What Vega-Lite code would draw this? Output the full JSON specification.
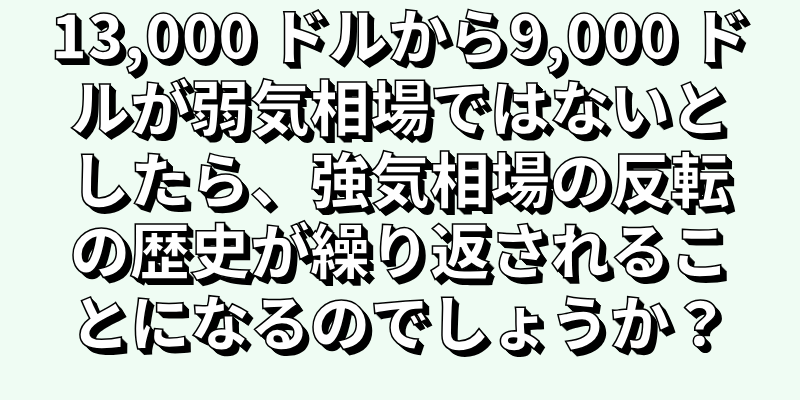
{
  "$schema": "https://vega.github.io/schema/vega-lite/v6.json",
  "autosize": {"type": "fit", "contains": "padding"},
  "width": 800,
  "height": 400,
  "padding": 0,
  "background": "#effcf3",
  "config": {"view": {"stroke": null}},
  "data": {"values": [
    {"row": 1, "col": 0, "text": "13,000 ドルから9,000 ド"},
    {"row": 2, "col": 0, "text": "ルが弱気相場ではないと"},
    {"row": 3, "col": 0, "text": "したら、強気相場の反転"},
    {"row": 4, "col": 0, "text": "の歴史が繰り返されるこ"},
    {"row": 5, "col": 0, "text": "とになるのでしょうか？"}
  ]},
  "encoding": {
    "x": {"field": "col", "type": "quantitative", "scale": {"domain": [-1, 1]}, "axis": null},
    "y": {"field": "row", "type": "quantitative", "scale": {"domain": [0.43, 6.0], "reverse": true}, "axis": null},
    "text": {"field": "text"}
  },
  "layer": [
    {"mark": {"type": "text", "font": "Noto Sans CJK JP", "fontWeight": 900, "fontSize": 60, "baseline": "middle", "align": "center", "fill": "#000", "dx": 6, "dy": 6}},
    {"mark": {"type": "text", "font": "Noto Sans CJK JP", "fontWeight": 900, "fontSize": 60, "baseline": "middle", "align": "center", "fill": "#000", "dx": 5, "dy": 5}},
    {"mark": {"type": "text", "font": "Noto Sans CJK JP", "fontWeight": 900, "fontSize": 60, "baseline": "middle", "align": "center", "fill": "#000", "dx": 4, "dy": 4}},
    {"mark": {"type": "text", "font": "Noto Sans CJK JP", "fontWeight": 900, "fontSize": 60, "baseline": "middle", "align": "center", "fill": "#000", "dx": 3, "dy": 3}},
    {"mark": {"type": "text", "font": "Noto Sans CJK JP", "fontWeight": 900, "fontSize": 60, "baseline": "middle", "align": "center", "fill": "#000", "dx": 2, "dy": 2}},
    {"mark": {"type": "text", "font": "Noto Sans CJK JP", "fontWeight": 900, "fontSize": 60, "baseline": "middle", "align": "center", "fill": "#000", "dx": 1, "dy": 1}},
    {"mark": {"type": "text", "font": "Noto Sans CJK JP", "fontWeight": 900, "fontSize": 60, "baseline": "middle", "align": "center", "fill": "#ffffff", "stroke": "#000", "strokeWidth": 1.5}}
  ]
}
